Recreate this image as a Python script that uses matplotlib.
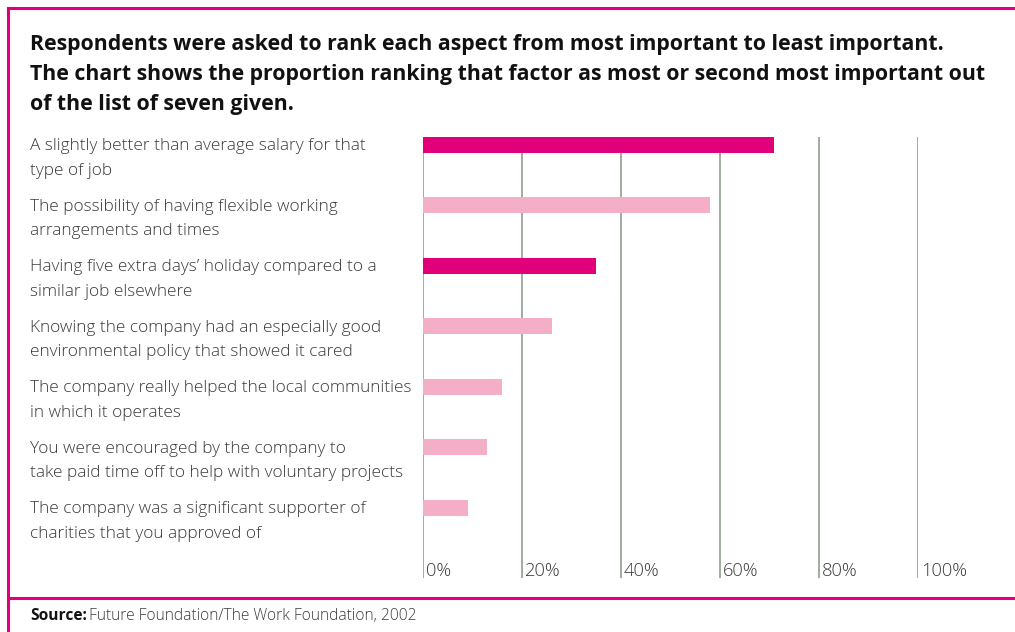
import matplotlib
matplotlib.use("Agg")
import matplotlib.pyplot as plt
import matplotlib.transforms as mtransforms
from matplotlib.lines import Line2D

MAGENTA = "#E2007A"
LIGHT_PINK = "#F5AEC8"
GRID = "#9DAE9F"
TEXT = "#3a3a3a"

plt.rcParams['font.family'] = ['Open Sans', 'DejaVu Sans']

title = ("Respondents were asked to rank each aspect from most important to least important.\n"
         "The chart shows the proportion ranking that factor as most or second most important out\n"
         "of the list of seven given.")

factors = [
    "A slightly better than average salary for that\ntype of job",
    "The possibility of having flexible working\narrangements and times",
    "Having five extra days\u2019 holiday compared to a\nsimilar job elsewhere",
    "Knowing the company had an especially good\nenvironmental policy that showed it cared",
    "The company really helped the local communities\nin which it operates",
    "You were encouraged by the company to\ntake paid time off to help with voluntary projects",
    "The company was a significant supporter of\ncharities that you approved of",
]
shares = [71, 58, 35, 26, 16, 13, 9]
highlight = [True, False, True, False, False, False, False]
ticks = [0, 20, 40, 60, 80, 100]
tick_labels = ["0%", "20%", "40%", "60%", "80%", "100%"]

W, H = 1015, 632
fig = plt.figure(figsize=(W / 100, H / 100), dpi=100)

# plot area in pixels: 0% line at x=423, 100% at x=918, gridlines from y=137 to y=578
ax = fig.add_axes([423 / W, 1 - 578 / H, 495 / W, (578 - 137) / H])
ax.set_xlim(0, 100)
ax.set_ylim(7.16, -0.13)
ax.axis('off')

for t in ticks:
    ax.axvline(t, color=GRID, lw=1.4, zorder=1)

colors = [MAGENTA if h else LIGHT_PINK for h in highlight]
ax.barh(range(len(shares)), shares, height=0.265, color=colors, zorder=2)

tick_trans = mtransforms.blended_transform_factory(ax.transData, ax.transAxes)
for t, lab in zip(ticks, tick_labels):
    ax.text(t + 0.6, -0.005, lab, transform=tick_trans, ha='left', va='bottom',
            fontsize=13.2, color=TEXT, fontweight='light')

label_trans = mtransforms.blended_transform_factory(fig.transFigure, ax.transData)
for i, f in enumerate(factors):
    ax.text(30 / W, i - 0.11, f, transform=label_trans, ha='left', va='top',
            fontsize=12.4, color=TEXT, fontweight='light', linespacing=1.72)

fig.text(30 / W, 1 - 34 / H, title, ha='left', va='top', fontsize=15.3,
         fontweight='bold', color='#111111', linespacing=1.55)

# source line
src = fig.text(30 / W, 1 - 616 / H, "Source:", ha='left', va='center',
               fontsize=11.2, fontweight='bold', color='#111111')
renderer = fig.canvas.get_renderer()
bb = src.get_window_extent(renderer)
fig.text((bb.x1 + 2) / W, 1 - 616 / H, "Future Foundation/The Work Foundation, 2002",
         ha='left', va='center', fontsize=11.2, fontweight='light', color=TEXT)

# frame: top rule, left rule and the rule above the source
for xs, ys in [([8, W], [8, 8]), ([8, 8], [8, H]), ([8, W], [598, 598])]:
    fig.add_artist(Line2D([x / W for x in xs], [1 - y / H for y in ys],
                          color=MAGENTA, lw=2.2))

fig.savefig("out.png", dpi=100)
